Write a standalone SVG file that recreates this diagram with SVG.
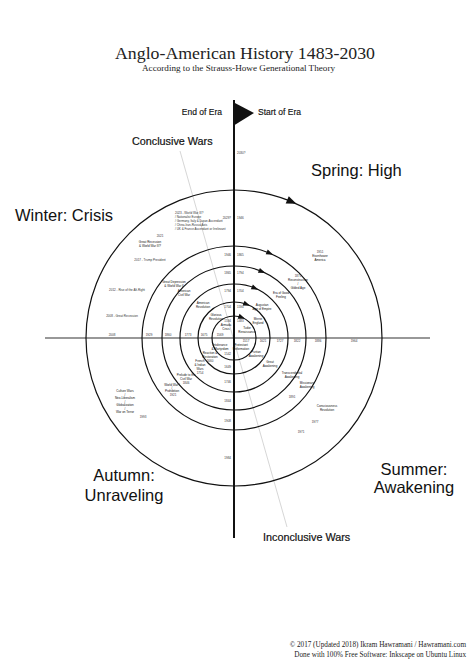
<svg xmlns="http://www.w3.org/2000/svg" width="474" height="670" viewBox="0 0 474 670">
<style>
.ttl{font-family:"Liberation Serif",serif;fill:#222}
.big{font-family:"Liberation Sans",Arial,sans-serif;font-size:16.5px;fill:#111}
.lab{font-family:"Liberation Sans",Arial,sans-serif;font-size:8.5px;fill:#111;stroke:#111;stroke-width:0.15}
.war{font-family:"Liberation Sans",Arial,sans-serif;font-size:10.8px;fill:#111;stroke:#111;stroke-width:0.2}
.s{font-family:"Liberation Sans",Arial,sans-serif;font-size:3px;fill:#333}
.n{font-family:"Liberation Sans",Arial,sans-serif;font-size:3px;fill:#111;text-anchor:middle}
.m{text-anchor:middle}
.e{text-anchor:end}
.ring{fill:none;stroke:#111;stroke-width:1.2}
</style>
<defs>
<path id="ah" d="M-3.5,-2.6 L3.5,0 L-3.5,2.6 Z" fill="#111"/>
<path id="ahb" d="M-5,-4 L5,0 L-5,4 Z" fill="#111"/>
</defs>
<rect width="474" height="670" fill="#fff"/>
<g id="title">
<text class="ttl m" x="245" y="58.5" font-size="17.5" textLength="260" lengthAdjust="spacingAndGlyphs">Anglo-American History 1483-2030</text>
<text class="ttl m" x="238.5" y="71" font-size="7.5" textLength="193" lengthAdjust="spacingAndGlyphs">According to the Strauss-Howe Generational Theory</text>
</g>
<g id="connectors">
<line x1="180" y1="151" x2="287" y2="527" stroke="#ccc" stroke-width="0.8"/>
<line x1="45" y1="338" x2="430" y2="338" stroke="#333" stroke-width="1.2"/>
<line x1="234" y1="100" x2="234" y2="538" stroke="#111" stroke-width="2"/>
</g>
<g id="flag"><path d="M233,102 L254,113 L233,126 Z" fill="#111"/>
<text class="lab e" x="222" y="115">End of Era</text>
<text class="lab" x="258" y="115">Start of Era</text></g>
<g id="rings">
<circle class="ring" cx="234" cy="338" r="148" stroke-width="2"/>
<circle class="ring" cx="234" cy="338" r="92"/>
<circle class="ring" cx="234" cy="338" r="72"/>
<circle class="ring" cx="234" cy="338" r="54"/>
<circle class="ring" cx="234" cy="338" r="36"/>
<circle class="ring" cx="234" cy="338" r="22"/>
<use href="#ahb" transform="rotate(23 234 338) translate(234 190)"/>
<use href="#ah" transform="rotate(23 234 338) translate(234 246)"/>
<use href="#ah" transform="rotate(23 234 338) translate(234 266)"/>
<use href="#ah" transform="rotate(23 234 338) translate(234 284)"/>
<use href="#ah" transform="rotate(21 234 338) translate(234 302)"/>
<use href="#ah" transform="rotate(21 234 338) translate(234 316)"/>
</g>
<g id="seasons">
<text class="big" x="311" y="176">Spring: High</text>
<text class="big" x="15" y="221">Winter: Crisis</text>
<text class="big m" x="124" y="481">Autumn:</text>
<text class="big m" x="124" y="501">Unraveling</text>
<text class="big m" x="414" y="475">Summer:</text>
<text class="big m" x="414" y="493">Awakening</text>
</g>
<g id="wars">
<text class="war" x="132" y="145">Conclusive Wars</text>
<text class="war" x="263" y="541">Inconclusive Wars</text>
</g>
<g id="years">
<text class="s" x="237" y="154">2030?</text>
<text class="s e" x="231" y="219">2029?</text><text class="s" x="237" y="219">1946</text>
<text class="s e" x="231" y="256">1946</text><text class="s" x="237" y="256">1865</text>
<text class="s e" x="231" y="274">1865</text><text class="s" x="237" y="274">1794</text>
<text class="s e" x="231" y="292">1794</text><text class="s" x="237" y="292">1704</text>
<text class="s e" x="231" y="308">1704</text><text class="s" x="237" y="308">1594</text>
<text class="s e" x="231" y="322">1594</text><text class="s" x="237" y="322">1483</text>
<text class="s m" x="112" y="336">2008</text>
<text class="s m" x="149" y="336">1929</text>
<text class="s m" x="168" y="336">1860</text>
<text class="s m" x="188" y="336">1773</text>
<text class="s m" x="204" y="336">1675</text>
<text class="s m" x="220" y="336">1569</text>
<text class="s m" x="246" y="342">1517</text>
<text class="s m" x="263" y="342">1621</text>
<text class="s m" x="280" y="342">1727</text>
<text class="s m" x="297" y="342">1822</text>
<text class="s m" x="318" y="342">1886</text>
<text class="s m" x="354" y="342">1964</text>
<text class="s e" x="231" y="355">1542</text>
<text class="s e" x="231" y="368">1649</text>
<text class="s e" x="231" y="383">1746</text>
<text class="s e" x="231" y="402">1844</text>
<text class="s e" x="231" y="422">1908</text>
<text class="s e" x="231" y="459">1984</text>
</g>
<g id="crisis">
<text class="s" x="175" y="214">2023 - World War III?</text>
<text class="s" x="175" y="218">/ Nationalist Europe</text>
<text class="s" x="175" y="222">/ Germany, Italy &amp; Japan Ascendant</text>
<text class="s" x="175" y="226">/ China-Iran-Russia Axis</text>
<text class="s" x="175" y="230">/ UK &amp; France Ascendant or Irrelevant</text>
<text class="s m" x="160" y="237">2021</text>
<text class="n" x="150" y="243">Great Recession</text>
<text class="n" x="150" y="247">&amp; World War III?</text>
<text class="s m" x="150" y="261">2017 - Trump President</text>
<text class="s m" x="127" y="291">2012 - Rise of the Alt-Right</text>
<text class="s m" x="122" y="317">2008 - Great Recession</text>
<text class="n" x="174" y="283">Great Depression</text>
<text class="n" x="174" y="287">&amp; World War II</text>
<text class="n" x="184" y="292">American</text>
<text class="n" x="184" y="296">Civil War</text>
<text class="n" x="203" y="304">American</text>
<text class="n" x="203" y="308">Revolution</text>
<text class="n" x="216" y="316">Glorious</text>
<text class="n" x="216" y="320">Revolution</text>
<text class="n" x="226" y="326">Armada</text>
<text class="n" x="226" y="330">Crisis</text>
</g>
<g id="high">
<text class="n" x="247" y="329">Tudor</text>
<text class="n" x="247" y="333">Renaissance</text>
<text class="n" x="258" y="320">Merrie</text>
<text class="n" x="258" y="324">England</text>
<text class="n" x="262" y="306">Augustan</text>
<text class="n" x="262" y="310">Age of Empire</text>
<text class="n" x="281" y="294">Era of Good</text>
<text class="n" x="281" y="298">Feeling</text>
<text class="s m" x="298" y="277">1871</text>
<text class="n" x="298" y="281">Reconstruction</text>
<text class="n" x="298" y="285">/</text>
<text class="n" x="298" y="289">Gilded Age</text>
<text class="s m" x="320" y="253">1951</text>
<text class="n" x="320" y="257">Eisenhower</text>
<text class="n" x="320" y="261">America</text>
</g>
<g id="awakening">
<text class="n" x="241" y="346">Protestant</text>
<text class="n" x="241" y="350">Reformation</text>
<text class="n" x="256" y="353">Puritan</text>
<text class="n" x="256" y="357">Awakening</text>
<text class="n" x="270" y="363">Great</text>
<text class="n" x="270" y="367">Awakening</text>
<text class="n" x="292" y="374">Transcendental</text>
<text class="n" x="292" y="378">Awakening</text>
<text class="s m" x="292" y="398">1891</text>
<text class="n" x="307" y="384">Missionary</text>
<text class="n" x="307" y="388">Awakening</text>
<text class="n" x="327" y="407">Consciousness</text>
<text class="n" x="327" y="411">Revolution</text>
<text class="s m" x="315" y="423">1977</text>
<text class="s m" x="301" y="433">1971</text>
</g>
<g id="unraveling">
<text class="n" x="220" y="346">Intolerance</text>
<text class="n" x="220" y="350">&amp; Martyrdom</text>
<text class="n" x="210" y="354">Reaction &amp;</text>
<text class="n" x="210" y="358">Restoration</text>
<text class="s m" x="210" y="362">1660</text>
<text class="n" x="200" y="362">French</text>
<text class="n" x="200" y="366">&amp; Indian</text>
<text class="n" x="200" y="370">Wars</text>
<text class="s m" x="200" y="374">1754</text>
<text class="n" x="186" y="376">Prelude to the</text>
<text class="n" x="186" y="380">Civil War</text>
<text class="s m" x="186" y="384">1846</text>
<text class="n" x="172" y="386">World War I</text>
<text class="n" x="172" y="389">/</text>
<text class="n" x="172" y="392">Prohibition</text>
<text class="s m" x="173" y="396">1921</text>
<text class="n" x="125" y="392">Culture Wars</text>
<text class="n" x="125" y="395.5">/</text>
<text class="n" x="125" y="399">Neo-Liberalism</text>
<text class="n" x="125" y="402.5">/</text>
<text class="n" x="125" y="406">Globalization</text>
<text class="n" x="125" y="409.5">/</text>
<text class="n" x="125" y="413">War on Terror</text>
<text class="s m" x="143" y="418">1993</text>
</g>
<g id="footer">
<text class="ttl e" x="466" y="647" font-size="7.2">© 2017 (Updated 2018) Ikram Hawramani / Hawramani.com</text>
<text class="ttl e" x="466" y="657" font-size="7.2">Done with 100% Free Software: Inkscape on Ubuntu Linux</text>
</g>
</svg>
